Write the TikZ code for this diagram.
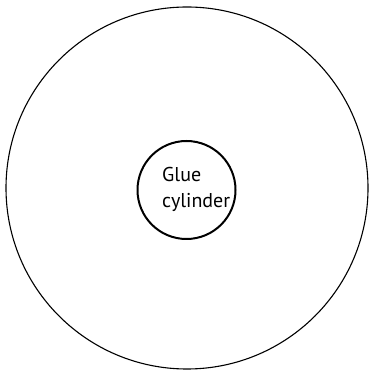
\documentclass[tikz,border=0pt]{standalone}
\usepackage{fontspec}
\setmainfont{PT Sans}
\begin{document}
\begin{tikzpicture}[x=1pt,y=1pt,
  outerring/.style={circle,draw,line width=1.1pt,minimum size=362pt,inner sep=0pt},
  innerring/.style={circle,draw,line width=2pt,minimum size=98pt,inner sep=0pt},
  label/.style={align=left,inner sep=0pt,font=\fontsize{20}{26}\selectfont}]
\useasboundingbox (0,0) rectangle (372,372);
\node[outerring] (outer) at (187,184) {};
\node[innerring] (inner) at (186.5,182) {};
\node[label,anchor=north west] (txt) at (162,205) {Glue\\cylinder};
\end{tikzpicture}
\end{document}
